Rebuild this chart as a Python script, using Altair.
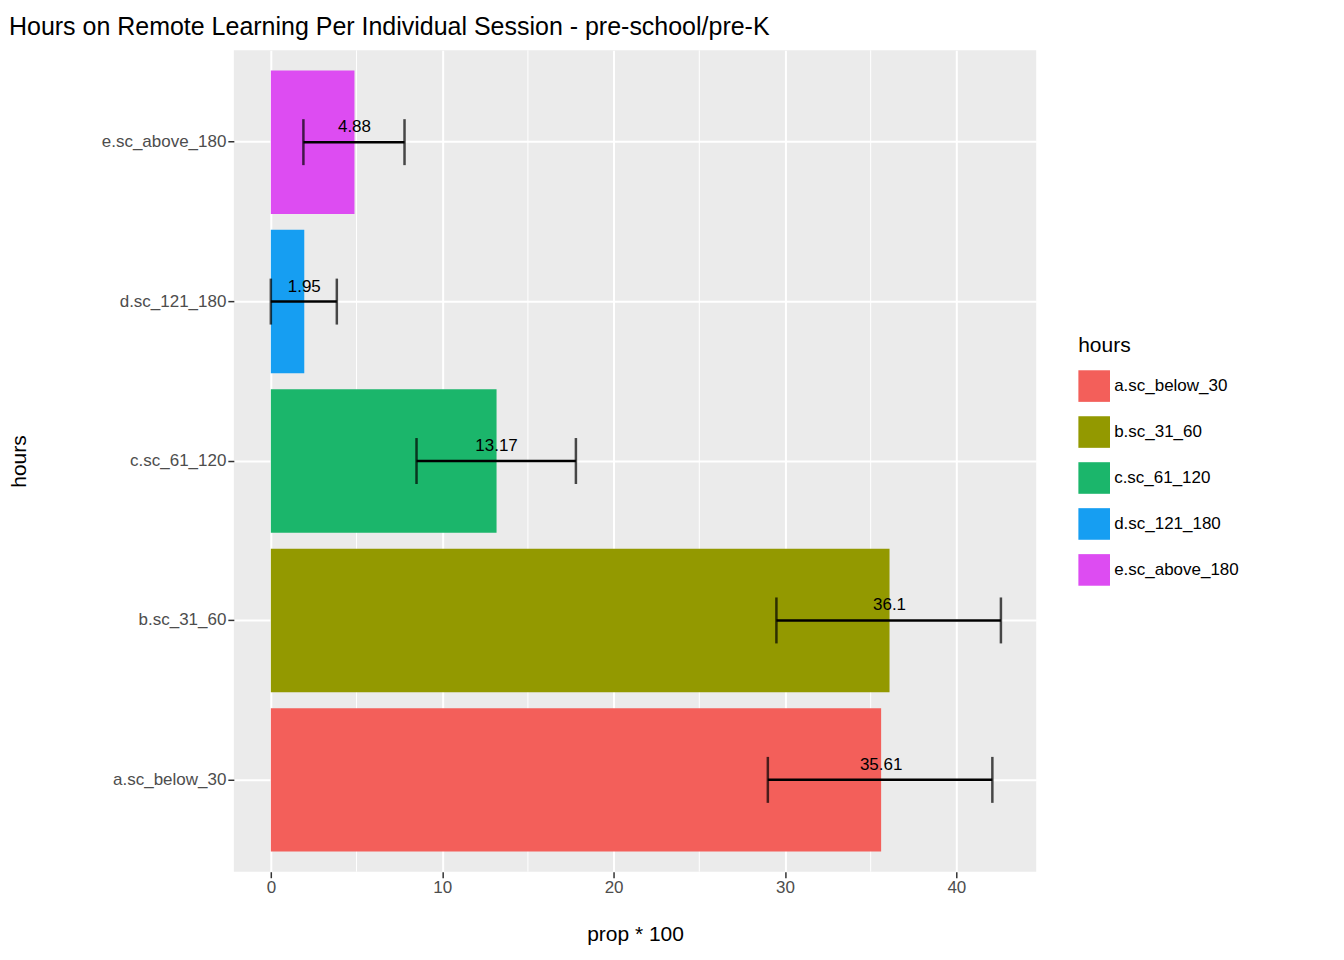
import altair as alt
import pandas as pd

hours = ['a.sc_below_30', 'b.sc_31_60', 'c.sc_61_120', 'd.sc_121_180', 'e.sc_above_180']
prop = [35.61, 36.1, 13.17, 1.95, 4.88]
lower = [29.0, 29.5, 8.5, 0.0, 1.9]
upper = [42.1, 42.6, 17.8, 3.85, 7.8]
labels = ['35.61', '36.1', '13.17', '1.95', '4.88']
colors = ['#F35F5A', '#939900', '#1BB66B', '#169EF2', '#DD4CF2']
minor = [5, 15, 25, 35]

df = pd.DataFrame({'hours': hours, 'prop': prop, 'lo': lower, 'hi': upper, 'label': labels})
minor_df = pd.DataFrame({'m': minor})

xscale = alt.Scale(domain=[-2.16, 44.66], nice=False, zero=False)
yscale = alt.Scale(domain=hours[::-1], paddingInner=0.1, paddingOuter=0.126)

base = alt.Chart(df)

grid = alt.Chart(minor_df).mark_rule(color='white', strokeWidth=1).encode(
    x=alt.X('m:Q', scale=xscale)
)

bars = base.mark_bar().encode(
    x=alt.X('prop:Q', scale=xscale, title='prop * 100',
            axis=alt.Axis(values=[0, 10, 20, 30, 40], grid=True, titleY=52)),
    y=alt.Y('hours:N', scale=yscale, title='hours',
            axis=alt.Axis(grid=True, bandPosition=0.5, titleX=-204)),
    color=alt.Color('hours:N', scale=alt.Scale(domain=hours, range=colors),
                    legend=alt.Legend(orient='none', legendX=845, legendY=285,
                                      symbolType='square', symbolSize=1000,
                                      symbolStrokeWidth=0, rowPadding=14,
                                      labelFontSize=17, titleFontSize=21,
                                      titleFontWeight='normal', titlePadding=14,
                                      labelColor='black', titleColor='black')),
)

rule = base.mark_rule(color='black', strokeWidth=2.5).encode(
    x=alt.X('lo:Q', scale=xscale), x2='hi:Q', y=alt.Y('hours:N', scale=yscale)
)
cap_lo = base.mark_tick(color='black', thickness=2.5, size=46).encode(
    x=alt.X('lo:Q', scale=xscale), y=alt.Y('hours:N', scale=yscale)
)
cap_hi = base.mark_tick(color='black', thickness=2.5, size=46).encode(
    x=alt.X('hi:Q', scale=xscale), y=alt.Y('hours:N', scale=yscale)
)
text = base.mark_text(baseline='bottom', dy=-6, fontSize=17, color='black').encode(
    x=alt.X('prop:Q', scale=xscale), y=alt.Y('hours:N', scale=yscale), text='label:N'
)

chart = (
    alt.layer(grid, bars, rule, cap_lo, cap_hi, text)
    .properties(
        width=803, height=822,
        autosize=alt.AutoSizeParams(type='none'),
        padding={'left': 226, 'top': 42, 'right': 300, 'bottom': 80},
        title=alt.Title('Hours on Remote Learning Per Individual Session - pre-school/pre-K',
                        anchor='start', fontSize=25, fontWeight='normal', offset=10)
    )
    .configure(font='Liberation Sans')
    .configure_view(fill='#EBEBEB', stroke=None)
    .configure_axis(gridColor='white', gridWidth=2, domain=False, tickColor='#333333',
                    tickSize=6, tickWidth=1.5, labelFontSize=17, labelColor='#4D4D4D',
                    titleFontSize=21, titleFontWeight='normal', titleColor='black')
)

chart.save("out.html", embed_options={"renderer": "svg", "actions": False})
